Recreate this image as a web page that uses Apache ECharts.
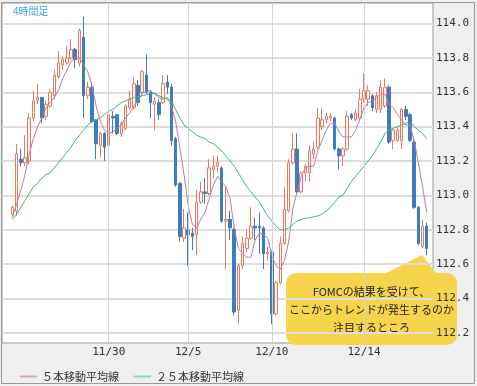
<!DOCTYPE html>
<html><head><meta charset="utf-8">
<script src="https://cdn.jsdelivr.net/npm/echarts@6/dist/echarts.min.js"></script>
<style>html,body{margin:0;padding:0;background:#fff}#c{width:477px;height:386px}</style>
</head><body><div id="c"></div>
<script>
// ---- data (USD/JPY 4-hour candles) ----
const opens = [112.89,112.91,113.21,113.19,113.20,113.45,113.55,113.57,113.46,113.52,
113.58,113.69,113.76,113.77,113.80,113.85,113.77,113.92,113.58,113.63,
113.44,113.29,113.36,113.29,113.46,113.47,113.36,113.39,113.51,113.51,
113.64,113.60,113.70,113.60,113.53,113.54,113.54,113.66,113.63,113.33,
113.07,112.75,112.80,112.78,112.77,112.96,113.02,113.01,113.15,113.17,
113.16,112.85,112.86,112.80,112.33,112.59,112.69,112.75,112.82,112.82,
112.81,112.66,112.67,112.31,112.49,112.72,112.91,113.19,113.27,113.02,
113.13,113.13,113.24,113.28,113.40,113.44,113.45,113.45,113.27,113.23,
113.27,113.47,113.44,113.45,113.56,113.56,113.58,113.50,113.50,113.52,
113.63,113.32,113.32,113.32,113.50,113.47,113.31,112.93,112.70,112.82];
const closes = [112.93,113.24,113.19,113.22,113.45,113.55,113.57,113.45,113.53,113.60,
113.70,113.77,113.79,113.80,113.85,113.79,113.96,113.58,113.63,113.43,
113.30,113.36,113.28,113.47,113.45,113.36,113.42,113.52,113.56,113.65,
113.54,113.72,113.60,113.54,113.55,113.47,113.65,113.63,113.32,113.06,
112.76,112.81,112.77,112.76,112.96,113.02,113.01,113.16,113.17,113.19,
112.85,112.86,112.81,112.32,112.59,112.72,112.75,112.82,112.81,112.81,
112.66,112.67,112.31,112.49,112.72,112.92,113.19,113.27,113.02,113.13,
113.17,113.26,113.27,113.45,113.44,113.46,113.46,113.27,113.23,113.27,
113.46,113.45,113.48,113.56,113.61,113.61,113.51,113.58,113.63,113.63,
113.31,113.38,113.38,113.50,113.46,113.32,112.93,112.72,112.82,112.69];
const highs = [112.94,113.30,113.27,113.35,113.48,113.61,113.65,113.57,113.55,113.62,
113.73,113.84,113.81,113.87,113.91,113.86,113.97,114.04,113.66,113.66,
113.44,113.37,113.37,113.48,113.49,113.47,113.43,113.53,113.61,113.69,
113.67,113.73,113.82,113.61,113.57,113.56,113.70,113.70,113.65,113.34,
113.08,112.92,112.90,112.81,113.03,113.08,113.10,113.21,113.23,113.23,
113.17,113.05,112.91,112.81,112.60,112.76,112.80,112.93,112.87,112.90,
112.82,112.70,112.68,112.50,112.76,113.05,113.21,113.36,113.36,113.14,
113.18,113.29,113.31,113.51,113.51,113.48,113.48,113.46,113.28,113.28,
113.49,113.48,113.50,113.62,113.71,113.64,113.59,113.60,113.67,113.68,
113.64,113.39,113.40,113.51,113.52,113.48,113.32,112.94,112.86,112.84];
const lows = [112.88,112.88,113.17,113.17,113.18,113.43,113.53,113.42,113.44,113.51,
113.56,113.68,113.73,113.76,113.79,113.74,113.75,113.45,113.56,113.42,
113.21,113.22,113.20,113.27,113.36,113.35,113.34,113.38,113.50,113.50,
113.52,113.59,113.59,113.45,113.38,113.44,113.53,113.59,113.29,113.05,
112.73,112.73,112.59,112.68,112.65,112.95,112.95,113.00,113.10,113.13,
112.84,112.57,112.74,112.30,112.25,112.57,112.67,112.74,112.74,112.66,
112.57,112.62,112.25,112.30,112.48,112.71,112.90,113.18,113.01,113.01,
113.08,113.08,113.21,113.27,113.38,113.42,113.43,113.26,113.15,113.17,
113.26,113.44,113.43,113.44,113.54,113.52,113.49,113.48,113.48,113.51,
113.30,113.27,113.31,113.27,113.44,113.31,112.92,112.71,112.69,112.65];
const ma5 = [112.87,112.95,113.03,113.12,113.24,113.33,113.40,113.45,113.51,113.54,
113.57,113.61,113.68,113.73,113.78,113.80,113.80,113.76,113.72,113.64,
113.52,113.43,113.38,113.36,113.37,113.39,113.41,113.45,113.48,113.52,
113.55,113.59,113.61,113.61,113.59,113.57,113.56,113.57,113.52,113.43,
113.28,113.12,112.94,112.83,112.81,112.86,112.90,112.98,113.06,113.11,
113.08,113.05,112.98,112.81,112.69,112.66,112.64,112.64,112.74,112.78,
112.77,112.75,112.65,112.59,112.57,112.62,112.73,112.92,113.02,113.11,
113.16,113.17,113.17,113.26,113.32,113.38,113.42,113.42,113.37,113.34,
113.34,113.34,113.38,113.44,113.51,113.54,113.55,113.57,113.59,113.59,
113.53,113.51,113.47,113.44,113.41,113.41,113.32,113.19,113.05,112.90];
const ma25 = [112.86,112.89,112.93,112.97,113.01,113.05,113.07,113.10,113.12,113.13,
113.16,113.19,113.22,113.25,113.28,113.32,113.35,113.38,113.41,113.43,
113.44,113.45,113.47,113.49,113.50,113.52,113.54,113.55,113.56,113.57,
113.575,113.58,113.585,113.59,113.595,113.58,113.57,113.56,113.55,113.50,
113.45,113.41,113.39,113.37,113.35,113.34,113.33,113.31,113.30,113.28,
113.26,113.23,113.20,113.17,113.13,113.09,113.05,113.02,112.99,112.96,
112.92,112.88,112.85,112.82,112.80,112.80,112.81,112.83,112.85,112.86,
112.865,112.87,112.875,112.88,112.89,112.91,112.93,112.96,112.99,113.00,
113.04,113.08,113.11,113.14,113.17,113.20,113.23,113.27,113.31,113.36,
113.38,113.39,113.40,113.41,113.42,113.43,113.40,113.38,113.36,113.33];
const dateLabels = ['11/30','12/5','12/10','12/14'];
const dateLabelIndex = [23,42,62,84];
const yTicks = [112.2,112.4,112.6,112.8,113.0,113.2,113.4,113.6,113.8,114.0];
const padBefore = 2, padAfter = 1;

// ---- build ----
const categories = [];
const candleData = [], ma5Data = [], ma25Data = [];
for (let k = -padBefore; k < closes.length + padAfter; k++) {
  const li = dateLabelIndex.indexOf(k);
  categories.push(li >= 0 ? dateLabels[li] : 'c' + k);
  if (k >= 0 && k < closes.length) {
    candleData.push([opens[k], closes[k], lows[k], highs[k]]);
    ma5Data.push(ma5[k]);
    ma25Data.push(ma25[k]);
  } else {
    candleData.push('-'); ma5Data.push('-'); ma25Data.push('-');
  }
}

const chart = echarts.init(document.getElementById('c'), null, {renderer: 'canvas'});
const mono = 'DejaVu Sans Mono';
const jp = '"Noto Sans CJK JP", sans-serif';
chart.setOption({
  animation: false,
  backgroundColor: '#efefef',
  grid: {left: 2, top: 3, right: 44, bottom: 43, show: true, backgroundColor: '#fff', borderColor: '#999', borderWidth: 1},
  legend: {
    data: ['５本移動平均線', '２５本移動平均線'],
    left: 15, top: 366, icon: 'rect', itemWidth: 17, itemHeight: 2, itemGap: 15,
    textStyle: {fontFamily: jp, fontSize: 11, color: '#333'}
  },
  xAxis: {
    type: 'category', data: categories, boundaryGap: true,
    axisLine: {show: false}, axisTick: {show: false},
    axisLabel: {
      interval: (i, v) => dateLabels.indexOf(v) >= 0,
      formatter: v => (dateLabels.indexOf(v) >= 0 ? v : ''),
      fontFamily: mono, fontSize: 11, color: '#333', margin: 4
    },
    splitLine: {show: false}
  },
  yAxis: {
    type: 'value', position: 'right', min: 112.14, max: 114.12,
    axisLine: {show: false},
    axisTick: {show: false, customValues: yTicks},
    axisLabel: {customValues: yTicks, formatter: v => v.toFixed(1), fontFamily: mono, fontSize: 11, color: '#333', margin: 3},
    splitLine: {show: true, lineStyle: {color: '#dedede', width: 2}}
  },
  series: [
    {
      type: 'line', name: 'grid', data: [], z: 1, silent: true,
      markLine: {
        silent: true, symbol: ['none', 'none'], label: {show: false},
        lineStyle: {color: '#d4d4d4', width: 1, type: 'solid'},
        emphasis: {disabled: true},
        data: dateLabels.map(d => ({xAxis: d}))
      }
    },
    {
      type: 'candlestick', name: '4時間足', data: candleData, barWidth: 3, z: 2,
      itemStyle: {color: '#fff4f1', color0: '#3d7dbd', borderColor: '#e37c67', borderColor0: '#3d7dbd', borderWidth: 1}
    },
    {
      type: 'line', name: '５本移動平均線', data: ma5Data, symbol: 'none', z: 3,
      lineStyle: {color: '#bf7aa6', width: 1}, itemStyle: {color: '#d2a6c2'}
    },
    {
      type: 'line', name: '２５本移動平均線', data: ma25Data, symbol: 'none', z: 3,
      lineStyle: {color: '#3fb47c', width: 1}, itemStyle: {color: '#94d3b4'}
    }
  ],
  graphic: [
    {type: 'text', left: 13, top: 6, z: 50,
     style: {text: '4時間足', fill: '#3aa9e0', font: '10px ' + jp}},
    {type: 'rect', z: 50, shape: {x: 1.5, y: 2.5, width: 473, height: 381},
     style: {fill: 'none', stroke: '#9a9a9a', lineWidth: 1}},
    {type: 'group', z: 100, children: [
      {type: 'rect', shape: {x: 286, y: 273, width: 171, height: 72, r: 10}, style: {fill: '#f6d54c'}},
      {type: 'polygon', shape: {points: [[384, 274], [422, 255], [437, 274]]}, style: {fill: '#f6d54c'}},
      {type: 'text', x: 371.5, y: 310,
       style: {text: 'FOMCの結果を受けて、\nここからトレンドが発生するのか\n注目するところ',
               fill: '#222', font: '11px ' + jp, align: 'center', verticalAlign: 'middle', lineHeight: 18}}
    ]}
  ]
});
</script></body></html>
